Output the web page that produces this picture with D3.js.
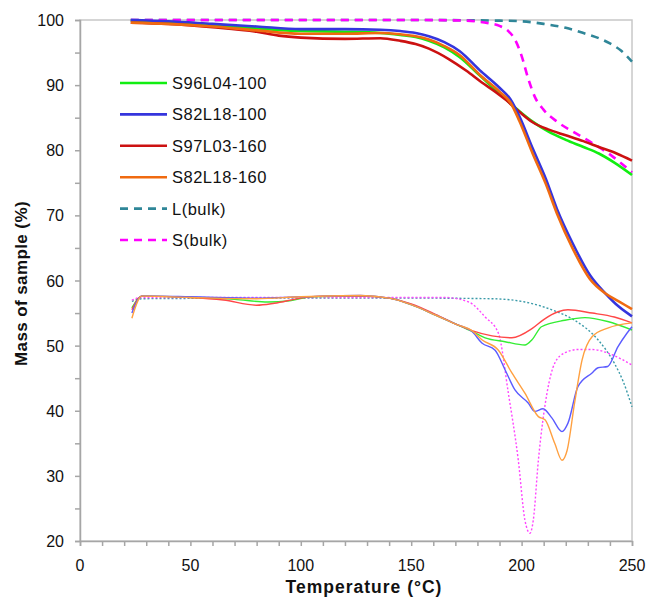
<!DOCTYPE html>
<html>
<head>
  <meta charset="utf-8">
  <title>Mass of sample vs temperature</title>
  <script src="https://d3js.org/d3.v7.min.js"></script>
  <style>
    body { margin: 0; background: #fff; }
    svg text { font-family: "Liberation Sans", Arial, sans-serif; fill: #111; }
    .axis-label { font-weight: bold; }
  </style>
</head>
<body>
  <div id="chart"></div>
  <script>
    // TGA curves (mass %)
    var s96l04_100 = [[23,99.9],[40,99.6],[60,99.2],[80,98.7],[100,98.3],[120,98.2],[136,98.0],[145,97.7],[152,97.4],[158,96.8],[165,95.8],[172,94.3],[181,91.5],[188,89.3],[193,87.8],[199,86.0],[205,84.4],[212,82.9],[220,81.6],[228,80.5],[235,79.5],[242,78.1],[250,76.2]];
    var s82l18_100 = [[23,100],[40,99.8],[60,99.4],[80,99.0],[100,98.6],[120,98.6],[136,98.5],[145,98.3],[152,98.0],[158,97.5],[165,96.6],[172,95.2],[181,92.3],[190,89.6],[195,87.8],[199,85.2],[205,80.3],[211,75.6],[216,71.0],[223,65.8],[231,60.8],[238,58.0],[244,56.0],[250,54.5]];
    var s97l03_160 = [[23,99.6],[40,99.4],[60,98.9],[80,98.2],[90,97.6],[100,97.3],[120,97.1],[136,97.2],[145,96.8],[152,96.3],[158,95.6],[167,94.0],[175,92.2],[182,90.4],[188,89.0],[193,87.7],[199,85.9],[205,84.3],[212,83.2],[220,82.3],[228,81.4],[235,80.5],[243,79.5],[250,78.4]];
    var s82l18_160 = [[23,99.6],[40,99.4],[60,99.0],[80,98.4],[100,97.9],[120,97.9],[136,98.0],[145,97.8],[152,97.5],[158,97.0],[165,96.0],[172,94.6],[181,91.6],[190,89.0],[195,87.3],[199,84.5],[205,79.5],[211,74.8],[216,70.3],[223,65.0],[231,60.2],[238,58.0],[244,56.8],[250,55.6]];
    var lBulk = [[23,100],[150,100],[190,99.9],[200,99.8],[210,99.4],[220,98.8],[228,98.0],[235,97.2],[240,96.4],[245,95.3],[250,93.6]];
    var sBulk = [[23,100],[150,100],[175,99.9],[185,99.5],[190,99.1],[194,98.3],[197,97.0],[200,94.5],[203,91.0],[206,88.2],[210,86.2],[216,84.4],[223,82.9],[232,81.1],[241,79.1],[250,76.6]];

    // derivative curves drawn in the lower part (same axis)
    var dS97l03_160 = [[23.5,55.5],[28,57.6],[50,57.4],[65,57.0],[80,56.2],[88,56.5],[100,57.3],[110,57.6],[127,57.6],[140,57.3],[150,56.4],[161,54.8],[171,53.2],[177.5,52.3],[186.6,51.5],[195.6,51.2],[204.7,52.6],[210,54.0],[216.5,55.2],[221,55.5],[232,55.0],[242,54.4],[250,53.5]];
    var dS96l04_100 = [[23.5,55.8],[28,57.6],[50,57.4],[70,57.1],[85,56.7],[95,56.9],[105,57.5],[127,57.6],[140,57.3],[150,56.3],[161,54.7],[171,53.2],[177.5,52.2],[183.5,51.2],[192.5,50.6],[201.5,50.1],[204.7,50.9],[209,52.9],[219.6,53.9],[228.7,54.3],[239,53.7],[250,52.4]];
    var dS82l18_100 = [[23.5,55.0],[28,57.6],[50,57.5],[80,57.3],[100,57.5],[127,57.7],[140,57.3],[150,56.3],[161,54.7],[171,53.2],[177.5,52.2],[182,50.4],[188,49.3],[192.5,46.3],[197,43.2],[203,41.2],[206,39.9],[209.7,40.3],[213.7,38.9],[218.3,36.8],[221,38.1],[225.5,43.7],[231.9,45.8],[234.6,46.6],[239,46.8],[243.6,49.8],[247.7,51.9],[250,52.9]];
    var dS82l18_160 = [[23.5,54.2],[28,57.6],[50,57.4],[80,57.2],[100,57.5],[127,57.7],[140,57.3],[150,56.3],[161,54.7],[171,53.2],[177.5,52.3],[182,50.9],[189.5,49.3],[195.6,45.8],[201.5,42.7],[207.6,39.1],[210.6,38.6],[215,35.0],[218.3,32.4],[220.6,33.9],[224,41.2],[227.4,47.8],[232,51.4],[239,52.7],[250,53.5]];
    var dSBulk = [[23.5,57.0],[28,57.4],[100,57.4],[150,57.4],[165,57.4],[176,56.7],[183.5,54.4],[189.5,51.9],[194,42.7],[198.5,32.4],[201.5,23.2],[203.8,21.2],[205.3,23.2],[207.6,32.4],[211.5,42.7],[215,47.3],[219.6,48.9],[225.5,49.4],[232,49.4],[241,48.6],[250,47.0]];
    var dLBulk = [[23.5,56.8],[28,57.2],[100,57.3],[150,57.3],[186.6,57.2],[201.5,56.7],[213.7,55.5],[224,53.9],[234.6,50.9],[242,47.3],[246,44.5],[250,40.6]];

    var xTicks = [0, 50, 100, 150, 200, 250];
    var yTicks = [20, 30, 40, 50, 60, 70, 80, 90, 100];
    var legendNames = ["S96L04-100", "S82L18-100", "S97L03-160", "S82L18-160", "L(bulk)", "S(bulk)"];

    var width = 649, height = 600;
    var margin = { top: 20, right: 17, bottom: 59, left: 80 };

    var svg = d3.select("#chart").append("svg")
      .attr("width", width)
      .attr("height", height);

    var x = d3.scaleLinear().domain([0, 250]).range([margin.left, width - margin.right]);
    var y = d3.scaleLinear().domain([20, 100]).range([height - margin.bottom, margin.top]);

    var axisColor = "#a6a6a6";

    // frame
    svg.append("rect")
      .attr("x", x(0)).attr("y", y(100))
      .attr("width", x(250) - x(0)).attr("height", y(20) - y(100))
      .attr("fill", "none").attr("stroke", "#c8c8c8").attr("stroke-width", 1.5);

    // axes
    var xAxis = svg.append("g")
      .attr("transform", "translate(0," + y(20) + ")")
      .call(d3.axisBottom(x).tickValues(d3.range(0, 251, 10)).tickSize(5).tickFormat(""));
    var yAxis = svg.append("g")
      .attr("transform", "translate(" + x(0) + ",0)")
      .call(d3.axisLeft(y).tickValues(d3.range(20, 101, 5)).tickSize(5).tickFormat(""));
    [xAxis, yAxis].forEach(function(a) {
      a.selectAll("path, line").attr("stroke", axisColor).attr("stroke-width", 1.5);
    });

    svg.append("g").selectAll("text").data(xTicks).enter().append("text")
      .attr("x", function(d) { return x(d); })
      .attr("y", y(20) + 30)
      .attr("text-anchor", "middle")
      .style("font-size", "16px")
      .text(function(d) { return d; });

    svg.append("g").selectAll("text").data(yTicks).enter().append("text")
      .attr("x", x(0) - 16)
      .attr("y", function(d) { return y(d) + 6; })
      .attr("text-anchor", "end")
      .style("font-size", "16px")
      .text(function(d) { return d; });

    svg.append("text").attr("class", "axis-label")
      .attr("x", 364)
      .attr("y", 593)
      .attr("text-anchor", "middle")
      .style("font-size", "17.5px")
      .style("letter-spacing", "1px")
      .text("Temperature (°C)");

    svg.append("text").attr("class", "axis-label")
      .attr("transform", "translate(27," + ((y(20) + y(100)) / 2 + 3) + ") rotate(-90)")
      .attr("text-anchor", "middle")
      .style("font-size", "17px")
      .style("letter-spacing", "0.4px")
      .text("Mass of sample (%)");

    var line = d3.line()
      .x(function(d) { return x(d[0]); })
      .y(function(d) { return y(d[1]); })
      .curve(d3.curveMonotoneX);

    var series = [
      { data: dLBulk, color: "#3a9aa8", width: 1.4, dash: "2,2" },
      { data: dSBulk, color: "#ff44ff", width: 1.4, dash: "2,2" },
      { data: dS96l04_100, color: "#33ee33", width: 1.4 },
      { data: dS97l03_160, color: "#ff4747", width: 1.4 },
      { data: dS82l18_100, color: "#5b5bff", width: 1.4 },
      { data: dS82l18_160, color: "#ffa040", width: 1.4 },
      { data: lBulk, color: "#2f8698", width: 2.6, dash: "8,6" },
      { data: sBulk, color: "#ff00ff", width: 2.6, dash: "8,6" },
      { data: s96l04_100, color: "#11ee11", width: 2.6 },
      { data: s97l03_160, color: "#cc1111", width: 2.6 },
      { data: s82l18_100, color: "#3535dd", width: 2.6 },
      { data: s82l18_160, color: "#f06a10", width: 2.6 }
    ];

    svg.append("g").selectAll("path").data(series).enter().append("path")
      .attr("fill", "none")
      .attr("stroke", function(d) { return d.color; })
      .attr("stroke-width", function(d) { return d.width; })
      .attr("stroke-dasharray", function(d) { return d.dash || null; })
      .attr("d", function(d) { return line(d.data); });

    // legend
    var legendStyle = [
      { color: "#11ee11" }, { color: "#3535dd" }, { color: "#cc1111" },
      { color: "#f06a10" }, { color: "#2f8698", dash: "8,6" }, { color: "#ff00ff", dash: "8,6" }
    ];
    var legend = svg.append("g");
    legendNames.forEach(function(name, i) {
      var ly = 83 + i * 31.4;
      legend.append("line")
        .attr("x1", 120).attr("x2", 167)
        .attr("y1", ly).attr("y2", ly)
        .attr("stroke", legendStyle[i].color)
        .attr("stroke-width", 2.6)
        .attr("stroke-dasharray", legendStyle[i].dash || null);
      legend.append("text")
        .attr("x", 172).attr("y", ly + 6)
        .style("font-size", "16.5px")
        .style("letter-spacing", "0.5px")
        .text(name);
    });
  </script>
</body>
</html>
